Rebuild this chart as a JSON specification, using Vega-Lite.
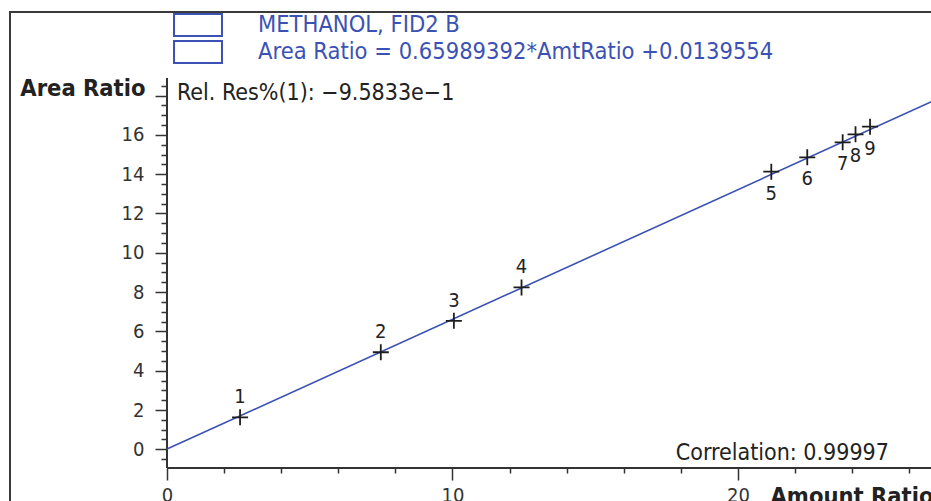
{
  "$schema": "https://vega.github.io/schema/vega-lite/v6.json",
  "width": 930,
  "height": 495,
  "autosize": {"type": "none"},
  "padding": {"left": 10, "top": 12, "right": 0, "bottom": 0},
  "background": "white",
  "config": {
    "view": {"stroke": "#3a3a3a", "strokeWidth": 2},
    "font": "DejaVu Sans Condensed",
    "axis": {"grid": false, "domain": false}
  },
  "datasets": {
    "cal": [
      {"n": 1, "amt": 2.56, "area": 1.63},
      {"n": 2, "amt": 7.49, "area": 4.94},
      {"n": 3, "amt": 10.05, "area": 6.54},
      {"n": 4, "amt": 12.42, "area": 8.24},
      {"n": 5, "amt": 21.17, "area": 14.13},
      {"n": 6, "amt": 22.43, "area": 14.86},
      {"n": 7, "amt": 23.67, "area": 15.62},
      {"n": 8, "amt": 24.12, "area": 16.03},
      {"n": 9, "amt": 24.63, "area": 16.42}
    ],
    "fit": [
      {"amt": 0, "area": 0.014},
      {"amt": 27.2, "area": 17.963}
    ],
    "axislines": [
      {"x": 0, "x2": 0, "y": -0.95, "y2": 18.9},
      {"x": 0, "x2": 27.2, "y": -0.95, "y2": -0.95}
    ],
    "legend": [
      {"series": "METHANOL, FID2 B"},
      {"series": "Area Ratio = 0.65989392*AmtRatio +0.0139554"}
    ]
  },
  "layer": [
    {
      "data": {"name": "axislines"},
      "mark": {"type": "rule", "color": "#333333", "strokeWidth": 2},
      "encoding": {
        "x": {
          "field": "x", "type": "quantitative",
          "scale": {"domain": [-5.5, 27.08], "nice": false, "zero": false},
          "axis": {
            "values": [0, 2, 4, 6, 8, 10, 12, 14, 16, 18, 20, 22, 24, 26],
            "tickCount": 200,
            "offset": -39,
            "title": "Amount Ratio",
            "titleX": 760, "titleY": 28,
            "titleAlign": "left", "titleBaseline": "middle", "titleAngle": 0,
            "titleFontSize": 23.5, "titleFontWeight": "bold", "titleColor": "#222222",
            "labelExpr": "datum.value % 10 === 0 ? toString(datum.value) : ''",
            "labelFontSize": 20, "labelColor": "#333333", "labelPadding": 5,
            "labelFlush": false, "labelOverlap": false,
            "tickSize": {"condition": {"test": "datum.value % 10 === 0", "value": 12}, "value": 5},
            "tickColor": "#333333", "tickWidth": 1.5
          }
        },
        "x2": {"field": "x2"},
        "y": {
          "field": "y", "type": "quantitative",
          "scale": {"domain": [-2.936, 22.254], "nice": false, "zero": false},
          "axis": {
            "values": [-0.5, 0, 0.5, 1, 1.5, 2, 2.5, 3, 3.5, 4, 4.5, 5, 5.5, 6, 6.5, 7, 7.5, 8, 8.5, 9, 9.5, 10, 10.5, 11, 11.5, 12, 12.5, 13, 13.5, 14, 14.5, 15, 15.5, 16, 16.5, 17, 17.5, 18, 18.5],
            "tickCount": 200,
            "offset": -157,
            "title": "Area Ratio",
            "titleX": -22, "titleY": 76,
            "titleAlign": "right", "titleBaseline": "middle", "titleAngle": 0,
            "titleFontSize": 23.5, "titleFontWeight": "bold", "titleColor": "#222222",
            "labelExpr": "datum.value % 2 === 0 && datum.value <= 16 ? toString(datum.value) : ''",
            "labelFontSize": 20, "labelColor": "#333333", "labelPadding": 11,
            "labelFlush": false, "labelOverlap": false,
            "tickSize": {"condition": {"test": "datum.value % 2 === 0", "value": 12}, "value": 6},
            "tickColor": "#333333", "tickWidth": 1.5
          }
        },
        "y2": {"field": "y2"}
      }
    },
    {
      "data": {"name": "fit"},
      "mark": {"type": "line", "color": "#3b52b4", "strokeWidth": 1.6},
      "encoding": {
        "x": {"field": "amt", "type": "quantitative"},
        "y": {"field": "area", "type": "quantitative"}
      }
    },
    {
      "data": {"name": "cal"},
      "mark": {"type": "point", "shape": "M-1,0H1M0,-1V1", "size": 256, "filled": false, "stroke": "#1e1e1e", "strokeWidth": 1.8, "opacity": 1},
      "encoding": {
        "x": {"field": "amt", "type": "quantitative"},
        "y": {"field": "area", "type": "quantitative"}
      }
    },
    {
      "data": {"name": "cal"},
      "transform": [{"filter": "datum.n <= 4"}],
      "mark": {"type": "text", "dy": -20, "fontSize": 20, "color": "#222222", "baseline": "middle"},
      "encoding": {
        "x": {"field": "amt", "type": "quantitative"},
        "y": {"field": "area", "type": "quantitative"},
        "text": {"field": "n"}
      }
    },
    {
      "data": {"name": "cal"},
      "transform": [{"filter": "datum.n >= 5"}],
      "mark": {"type": "text", "dy": 22, "fontSize": 20, "color": "#222222", "baseline": "middle"},
      "encoding": {
        "x": {"field": "amt", "type": "quantitative"},
        "y": {"field": "area", "type": "quantitative"},
        "text": {"field": "n"}
      }
    },
    {
      "data": {"values": [{"t": "Rel. Res%(1): \u22129.5833e\u22121"}]},
      "mark": {"type": "text", "align": "left", "baseline": "middle", "fontSize": 23, "color": "#222222"},
      "encoding": {
        "x": {"datum": 0.35, "type": "quantitative"},
        "y": {"datum": 18.13, "type": "quantitative"},
        "text": {"field": "t"}
      }
    },
    {
      "data": {"values": [{"t": "Correlation: 0.99997"}]},
      "mark": {"type": "text", "align": "right", "baseline": "middle", "fontSize": 23, "color": "#222222"},
      "encoding": {
        "x": {"datum": 25.29, "type": "quantitative"},
        "y": {"datum": -0.19, "type": "quantitative"},
        "text": {"field": "t"}
      }
    },
    {
      "data": {"name": "legend"},
      "mark": {"type": "point", "opacity": 0, "filled": false},
      "encoding": {
        "stroke": {
          "field": "series", "type": "nominal",
          "scale": {"domain": ["METHANOL, FID2 B", "Area Ratio = 0.65989392*AmtRatio +0.0139554"], "range": ["#3b52b4", "#3b52b4"]},
          "legend": {
            "orient": "none", "legendX": 176, "legendY": 1,
            "title": null, "padding": 0,
            "symbolType": "M-2.18,-1H2.18V1H-2.18Z", "symbolSize": 484,
            "symbolStrokeWidth": 2, "symbolOpacity": 1, "symbolFillColor": "white",
            "labelColor": "#3b52b4", "labelFontSize": 23.5, "labelOffset": 48,
            "labelLimit": 900, "rowPadding": -3
          }
        }
      }
    }
  ]
}
